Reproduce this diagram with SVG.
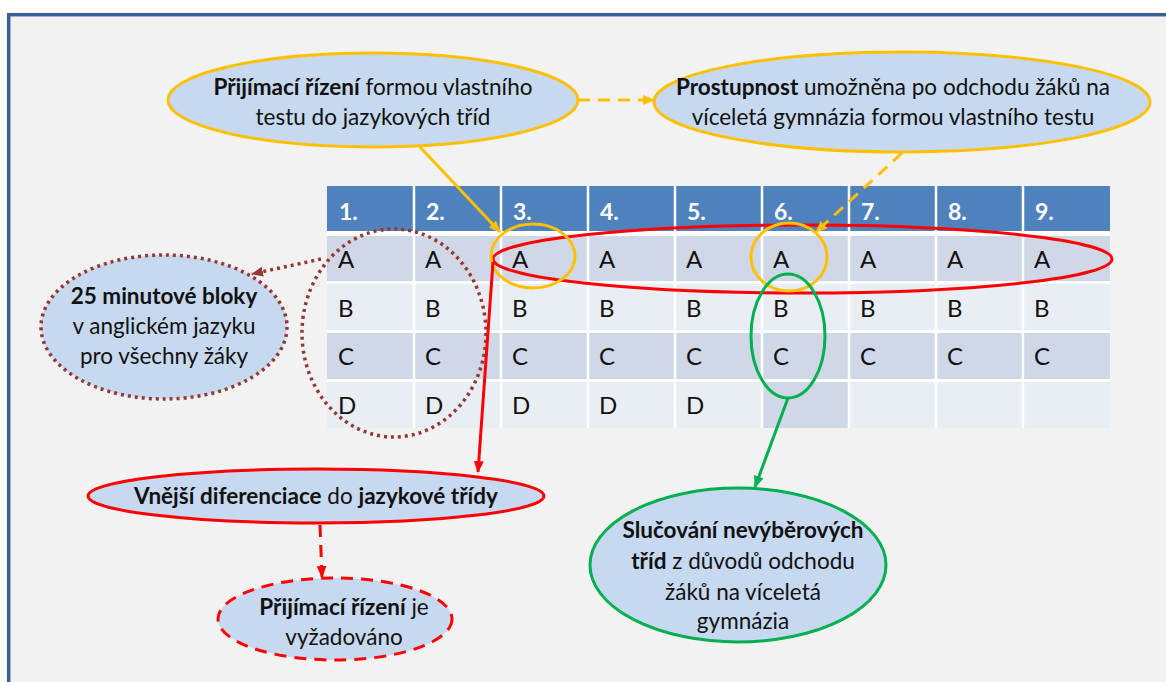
<svg xmlns="http://www.w3.org/2000/svg" width="1166" height="682" viewBox="0 0 1166 682">
<defs>
<style>
.t{font-family:Lato,"Liberation Sans",sans-serif;font-size:22.5px;fill:#111;text-anchor:middle}
.b{font-weight:bold}
.hd{font-family:Lato,"Liberation Sans",sans-serif;font-size:23px;font-weight:bold;fill:#fff}
.cl{font-family:Lato,"Liberation Sans",sans-serif;font-size:24px;fill:#111}
.gold{stroke:#ffc000;stroke-width:3;fill:none}
.red{stroke:#ff0000;stroke-width:3;fill:none}
.green{stroke:#00b050;stroke-width:3;fill:none}
.dot{stroke:#953735;stroke-width:3.5;fill:none;stroke-dasharray:3 4}
.dash{stroke-dasharray:12 8}
.bub{fill:#c6d9f0}
</style>
<marker id="mGold" markerUnits="userSpaceOnUse" markerWidth="12" markerHeight="10" refX="11" refY="5" orient="auto"><path d="M0,0 L12,5 L0,10 z" fill="#ffc000"/></marker>
<marker id="mRed" markerUnits="userSpaceOnUse" markerWidth="12" markerHeight="10" refX="11" refY="5" orient="auto"><path d="M0,0 L12,5 L0,10 z" fill="#ff0000"/></marker>
<marker id="mGreen" markerUnits="userSpaceOnUse" markerWidth="12" markerHeight="10" refX="11" refY="5" orient="auto"><path d="M0,0 L12,5 L0,10 z" fill="#00b050"/></marker>
<marker id="mMaroon" markerUnits="userSpaceOnUse" markerWidth="12" markerHeight="10" refX="11" refY="5" orient="auto"><path d="M0,0 L12,5 L0,10 z" fill="#953735"/></marker>
</defs>
<rect x="0" y="0" width="1166" height="682" fill="#ffffff"/>
<rect x="8.7" y="14.7" width="1200" height="700" fill="#f2f2f2" stroke="#3a5f94" stroke-width="3.5"/>

<g id="table">
<rect x="327" y="186" width="783" height="242" fill="#ffffff"/>
<rect x="327" y="186" width="783" height="45" fill="#4f81bd"/>
<rect x="327" y="236" width="783" height="45" fill="#d0d8e8"/>
<rect x="327" y="284" width="783" height="46" fill="#e9edf4"/>
<rect x="327" y="333" width="783" height="46" fill="#d0d8e8"/>
<rect x="327" y="382" width="783" height="46" fill="#e9edf4"/>
<rect x="762" y="382" width="87" height="46" fill="#d0d8e8"/>
<g stroke="#ffffff" stroke-width="2.5">
<line x1="414" y1="186" x2="414" y2="428"/>
<line x1="501" y1="186" x2="501" y2="428"/>
<line x1="588" y1="186" x2="588" y2="428"/>
<line x1="675" y1="186" x2="675" y2="428"/>
<line x1="762" y1="186" x2="762" y2="428"/>
<line x1="849" y1="186" x2="849" y2="428"/>
<line x1="936" y1="186" x2="936" y2="428"/>
<line x1="1023" y1="186" x2="1023" y2="428"/>
</g>
<g class="hd">
<text x="339" y="220">1.</text><text x="426" y="220">2.</text><text x="513" y="220">3.</text>
<text x="600" y="220">4.</text><text x="687" y="220">5.</text><text x="774" y="220">6.</text>
<text x="861" y="220">7.</text><text x="948" y="220">8.</text><text x="1035" y="220">9.</text>
</g>
<g class="cl">
<text x="338" y="268">A</text><text x="425" y="268">A</text><text x="512" y="268">A</text><text x="599" y="268">A</text><text x="686" y="268">A</text><text x="773" y="268">A</text><text x="860" y="268">A</text><text x="947" y="268">A</text><text x="1034" y="268">A</text>
<text x="338" y="317">B</text><text x="425" y="317">B</text><text x="512" y="317">B</text><text x="599" y="317">B</text><text x="686" y="317">B</text><text x="773" y="317">B</text><text x="860" y="317">B</text><text x="947" y="317">B</text><text x="1034" y="317">B</text>
<text x="338" y="365">C</text><text x="425" y="365">C</text><text x="512" y="365">C</text><text x="599" y="365">C</text><text x="686" y="365">C</text><text x="773" y="365">C</text><text x="860" y="365">C</text><text x="947" y="365">C</text><text x="1034" y="365">C</text>
<text x="338" y="414">D</text><text x="425" y="414">D</text><text x="512" y="414">D</text><text x="599" y="414">D</text><text x="686" y="414">D</text>
</g>
</g>

<g id="highlights">
<ellipse class="dot" cx="394" cy="333" rx="92" ry="104"/>
<ellipse class="red" cx="802.5" cy="259" rx="309.5" ry="34"/>
<ellipse class="gold" cx="533" cy="256" rx="42" ry="32"/>
<ellipse class="gold" cx="789" cy="257" rx="38" ry="34"/>
<ellipse class="green" cx="788" cy="336" rx="37" ry="62"/>
</g>

<g id="connectors">
<line class="gold" x1="420" y1="147" x2="500" y2="232" marker-end="url(#mGold)"/>
<line class="gold dash" x1="578" y1="100" x2="654" y2="100" marker-end="url(#mGold)"/>
<line class="gold dash" x1="902" y1="153" x2="816" y2="232" marker-end="url(#mGold)"/>
<line class="red" x1="493" y1="262" x2="478" y2="472" marker-end="url(#mRed)"/>
<line class="red dash" x1="320" y1="525" x2="322" y2="577" marker-end="url(#mRed)"/>
<line class="green" x1="788" y1="398" x2="755" y2="487" marker-end="url(#mGreen)"/>
<line class="dot" x1="321" y1="259" x2="252" y2="274" marker-end="url(#mMaroon)"/>
</g>

<g id="node-prijimaci">
<ellipse class="gold" cx="373" cy="100" rx="205" ry="47" style="fill:#c6d9f0"/>
<text class="t" x="373" y="95"><tspan class="b">Přijímací řízení</tspan> formou vlastního</text>
<text class="t" x="373" y="125">testu do jazykových tříd</text>
</g>

<g id="node-prostupnost">
<ellipse class="gold" cx="902" cy="102" rx="248" ry="50" style="fill:#c6d9f0"/>
<text class="t" x="893" y="95"><tspan class="b">Prostupnost</tspan> umožněna po odchodu žáků na</text>
<text class="t" x="893" y="125">víceletá gymnázia formou vlastního testu</text>
</g>

<g id="node-bloky">
<ellipse class="dot" cx="164" cy="327" rx="123" ry="72" style="fill:#c6d9f0"/>
<text class="t b" x="164" y="304">25 minutové bloky</text>
<text class="t" x="164" y="334">v anglickém jazyku</text>
<text class="t" x="164" y="364">pro všechny žáky</text>
</g>

<g id="node-vnejsi">
<ellipse class="red" cx="316" cy="496" rx="228" ry="27" style="fill:#c6d9f0"/>
<text class="t" x="316" y="504"><tspan class="b">Vnější diferenciace</tspan> do <tspan class="b">jazykové třídy</tspan></text>
</g>

<g id="node-vyzadovano">
<ellipse class="red dash" cx="335" cy="619" rx="117" ry="41" style="fill:#c6d9f0"/>
<text class="t" x="344" y="615"><tspan class="b">Přijímací řízení</tspan> je</text>
<text class="t" x="344" y="645">vyžadováno</text>
</g>

<g id="node-slucovani">
<ellipse class="green" cx="738" cy="565" rx="148" ry="77" style="fill:#c6d9f0"/>
<text class="t b" x="743" y="538">Slučování nevýběrových</text>
<text class="t" x="743" y="569"><tspan class="b">tříd</tspan> z důvodů odchodu</text>
<text class="t" x="743" y="600">žáků na víceletá</text>
<text class="t" x="743" y="629">gymnázia</text>
</g>
</svg>
